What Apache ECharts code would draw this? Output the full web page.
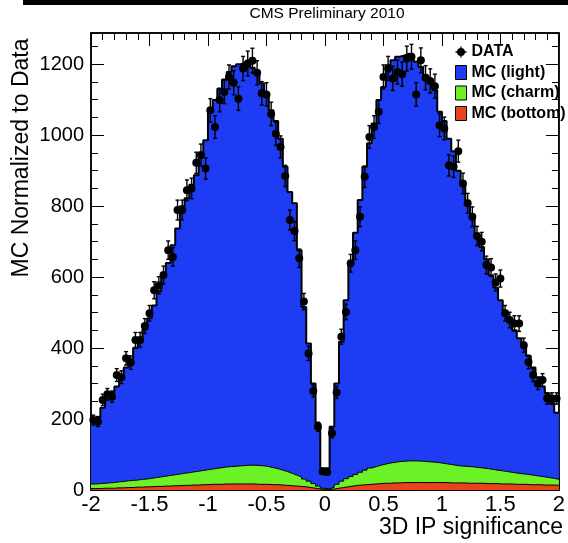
<!DOCTYPE html>
<html>
<head>
<meta charset="utf-8">
<script src="https://cdn.jsdelivr.net/npm/echarts@6/dist/echarts.min.js"></script>
<style>
  html, body { margin: 0; padding: 0; background: #fff; }
  #chart { width: 568px; height: 543px; }
</style>
</head>
<body>
<div id="chart"></div>
<script>
// ---- Binning (categories): 100 bins of width 0.04 from -2 to 2 ----
const binLow = -2;
const binWidth = 0.04;
const nBins = 100;

// ---- Tick labels ----
const xTickLabels = ['-2', '-1.5', '-1', '-0.5', '0', '0.5', '1', '1.5', '2'];
const yTickLabels = ['0', '200', '400', '600', '800', '1000', '1200'];

// ---- MC stack (cumulative heights as drawn: light+charm+bottom, charm+bottom, bottom) ----
const mcLightStack = [
  190, 205, 232, 255, 275, 292, 320, 345, 368, 400,
  425, 452, 484, 520, 560, 600, 640, 690, 737, 800,
  822, 860, 887, 944, 986, 1070, 1099, 1131, 1157, 1178,
  1194, 1200, 1204, 1202, 1190, 1174, 1146, 1110, 1070, 1040,
  990, 911, 840, 808, 676, 516, 413, 300, 188, 61,
  61, 178, 300, 418, 535, 638, 725, 817, 911, 977,
  1033, 1099, 1136, 1197, 1211, 1221, 1225, 1230, 1225, 1207,
  1192, 1169, 1146, 1127, 1066, 1040, 990, 955, 900, 860,
  815, 765, 720, 685, 650, 605, 570, 535, 505, 475,
  450, 428, 403, 378, 345, 318, 292, 272, 245, 218
];
const mcCharmStack = [
  17, 18, 19, 20, 21, 23, 24, 26, 27, 28,
  30, 31, 33, 35, 37, 39, 41, 43, 45, 47,
  49, 51, 53, 55, 57, 59, 61, 63, 65, 66,
  67, 68, 69, 70, 70, 69, 68, 66, 63, 60,
  56, 52, 47, 42, 37, 31, 25, 18, 11, 5,
  3, 8, 16, 25, 32, 38, 44, 50, 56, 62,
  66, 70, 73, 76, 78, 80, 81, 82, 82, 82,
  81, 80, 79, 78, 76, 74, 72, 70, 68, 67,
  66, 65, 63, 62, 60, 58, 56, 54, 52, 50,
  48, 46, 45, 43, 41, 39, 37, 35, 33, 30
];
const mcBottom = [
  4, 4, 5, 5, 5, 6, 6, 7, 7, 8,
  8, 9, 9, 10, 10, 11, 11, 12, 12, 13,
  13, 14, 14, 15, 15, 16, 16, 16, 17, 17,
  17, 17, 17, 17, 17, 16, 16, 16, 15, 15,
  14, 13, 12, 11, 10, 9, 7, 5, 3, 1,
  1, 3, 5, 7, 9, 11, 13, 14, 15, 16,
  17, 18, 19, 19, 20, 20, 21, 21, 21, 21,
  21, 21, 21, 21, 21, 21, 20, 20, 20, 20,
  19, 19, 19, 19, 18, 18, 18, 17, 17, 17,
  16, 16, 16, 15, 15, 15, 14, 14, 14, 13
];

// ---- DATA points and their error bars ----
const dataValues = [
  197, 193, 254, 270, 263, 324, 318, 371, 359, 423,
  423, 462, 498, 563, 577, 606, 676, 657, 789, 789,
  845, 850, 922, 944, 906, 1070, 1023, 1099, 1122, 1164,
  1148, 1103, 1188, 1202, 1210, 1176, 1118, 1115, 1060, 1004,
  967, 885, 761, 730, 653, 531, 385, 279, 178, 52,
  51, 160, 275, 432, 502, 639, 676, 770, 883, 995,
  1023, 1066, 1164, 1188, 1160, 1178, 1172, 1216, 1221, 1115,
  1211, 1162, 1153, 1138, 1028, 1019, 915, 911, 955, 864,
  808, 770, 716, 700, 634, 627, 585, 596, 498, 479,
  469, 469, 408, 361, 324, 300, 310, 258, 258, 258
];
const dataErrors = [
  14, 14, 16, 16, 16, 18, 18, 19, 19, 21,
  21, 21, 22, 24, 24, 25, 26, 26, 28, 28,
  29, 29, 30, 31, 30, 33, 32, 33, 33, 34,
  34, 33, 34, 35, 35, 34, 33, 33, 33, 32,
  31, 30, 28, 27, 26, 23, 20, 17, 13, 7,
  7, 13, 17, 21, 22, 25, 26, 28, 30, 32,
  32, 33, 34, 34, 34, 34, 34, 35, 35, 33,
  35, 34, 34, 34, 32, 32, 30, 30, 31, 29,
  28, 28, 27, 26, 25, 25, 24, 24, 22, 22,
  22, 22, 20, 19, 18, 17, 18, 16, 16, 16
];

// ---- Build series data ----
const r4 = v => Math.round(v * 10000) / 10000;
const edge = i => r4(binLow + i * binWidth);
const center = i => r4(binLow + (i + 0.5) * binWidth);
function stepData(vals) {
  const d = vals.map((v, i) => [edge(i), v]);
  d.push([edge(nBins), vals[vals.length - 1]]);
  return d;
}
const pointData = dataValues.map((v, i) => [center(i), v]);
const errData = dataValues.map((v, i) => [center(i), v, dataErrors[i]]);

const BLUE = '#1d3cf4';
const GREEN = '#6cf126';
const RED = '#e8421f';
const FONT = 'Liberation Sans, Arial, Helvetica, sans-serif';

const chart = echarts.init(document.getElementById('chart'), null, { renderer: 'canvas' });

const GRID = { left: 91, top: 33, width: 471, height: 457 };

function xAx(position, interval, tickLen, showLabel, showLine) {
  return {
    type: 'value', position, min: -2, max: 2, interval,
    axisLine: { show: showLine, onZero: false, lineStyle: { color: '#000', width: 1.5 } },
    axisTick: { show: true, inside: true, length: tickLen, lineStyle: { color: '#000', width: 1 } },
    axisLabel: showLabel ? {
      show: true, fontSize: 22, color: '#000', fontFamily: FONT, margin: 4,
      formatter: v => {
        const idx = Math.round((v + 2) / 0.5);
        return Math.abs(v - (-2 + idx * 0.5)) < 1e-6 ? xTickLabels[idx] : '';
      }
    } : { show: false },
    splitLine: { show: false }
  };
}
function yAx(position, interval, tickLen, showLabel, showLine) {
  return {
    type: 'value', position, min: 0, max: 1288, interval,
    axisLine: { show: showLine, onZero: false, lineStyle: { color: '#000', width: 1.5 } },
    axisTick: { show: true, inside: true, length: tickLen, lineStyle: { color: '#000', width: 1 } },
    axisLabel: showLabel ? {
      show: true, fontSize: 20, color: '#000', fontFamily: FONT, margin: 7,
      showMaxLabel: false,
      formatter: v => {
        const idx = Math.round(v / 200);
        return (Math.abs(v - idx * 200) < 1e-6 && idx < yTickLabels.length) ? yTickLabels[idx] : '';
      }
    } : { show: false },
    splitLine: { show: false }
  };
}

const legendIconData = 'path://M4.4,0 L5.6,0 L5.6,10 L4.4,10 Z M0,4.4 L10,4.4 L10,5.6 L0,5.6 Z M5,1.4 A3.6,3.6 0 1 1 4.99,1.4 Z';

const option = {
  backgroundColor: '#fff',
  animation: false,
  grid: { ...GRID, show: true, borderColor: '#000', borderWidth: 1.5, backgroundColor: 'transparent' },
  xAxis: [
    xAx('bottom', 0.5, 13, true, true),
    xAx('bottom', 0.1, 7, false, false),
    xAx('top', 0.5, 13, false, true),
    xAx('top', 0.1, 7, false, false)
  ],
  yAxis: [
    yAx('left', 200, 13, true, true),
    yAx('left', 50, 7, false, false),
    yAx('right', 200, 13, false, true),
    yAx('right', 50, 7, false, false)
  ],
  legend: {
    orient: 'vertical', left: 455, top: 44, padding: 0,
    itemWidth: 11, itemHeight: 14, itemGap: 4.5,
    textStyle: { fontSize: 16, fontWeight: 'bold', color: '#000', fontFamily: FONT },
    selectedMode: false,
    data: [
      { name: 'DATA', icon: legendIconData, itemStyle: { color: '#000', borderWidth: 0 } },
      { name: 'MC (light)', icon: 'rect', itemStyle: { color: BLUE, borderColor: '#000', borderWidth: 1 } },
      { name: 'MC (charm)', icon: 'rect', itemStyle: { color: GREEN, borderColor: '#000', borderWidth: 1 } },
      { name: 'MC (bottom)', icon: 'rect', itemStyle: { color: RED, borderColor: '#000', borderWidth: 1 } }
    ]
  },
  graphic: [
    { type: 'rect', left: 23, top: 0, shape: { width: 545, height: 5 }, style: { fill: '#000' }, z: 100 },
    { type: 'text', x: 327, y: 14, style: { text: 'CMS Preliminary 2010', font: '15.5px ' + FONT, fill: '#000', textAlign: 'center', textVerticalAlign: 'middle' } },
    { type: 'text', x: 22, y: 158, rotation: Math.PI / 2, style: { text: 'MC Normalized to Data', font: '23px ' + FONT, fill: '#000', textAlign: 'center', textVerticalAlign: 'middle' } },
    { type: 'text', x: 563, y: 528, style: { text: '3D IP significance', font: '23px ' + FONT, fill: '#000', textAlign: 'right', textVerticalAlign: 'middle' } }
  ],
  series: [
    {
      name: 'MC (light)', type: 'line', step: 'end', data: stepData(mcLightStack),
      symbol: 'none', xAxisIndex: 0, yAxisIndex: 0,
      lineStyle: { color: '#000', width: 2 }, itemStyle: { color: BLUE },
      areaStyle: { color: BLUE, opacity: 1, origin: 'start' }, z: 2
    },
    {
      name: 'MC (charm)', type: 'line', step: 'end', data: stepData(mcCharmStack),
      symbol: 'none', xAxisIndex: 0, yAxisIndex: 0,
      lineStyle: { color: '#000', width: 1 }, itemStyle: { color: GREEN },
      areaStyle: { color: GREEN, opacity: 1, origin: 'start' }, z: 3
    },
    {
      name: 'MC (bottom)', type: 'line', step: 'end', data: stepData(mcBottom),
      symbol: 'none', xAxisIndex: 0, yAxisIndex: 0,
      lineStyle: { color: '#000', width: 1 }, itemStyle: { color: RED },
      areaStyle: { color: RED, opacity: 1, origin: 'start' }, z: 4
    },
    {
      type: 'custom', xAxisIndex: 0, yAxisIndex: 0, z: 5,
      data: errData,
      encode: { x: 0, y: 1 },
      renderItem: (params, api) => {
        const x = api.value(0), y = api.value(1), e = api.value(2);
        const t = api.coord([x, y + e]);
        const b = api.coord([x, y - e]);
        const cap = 2;
        const st = { stroke: '#000', lineWidth: 1.4 };
        return {
          type: 'group', children: [
            { type: 'line', shape: { x1: t[0], y1: t[1], x2: b[0], y2: b[1] }, style: st },
            { type: 'line', shape: { x1: t[0] - cap, y1: t[1], x2: t[0] + cap, y2: t[1] }, style: st },
            { type: 'line', shape: { x1: b[0] - cap, y1: b[1], x2: b[0] + cap, y2: b[1] }, style: st }
          ]
        };
      }
    },
    {
      name: 'DATA', type: 'scatter', data: pointData, xAxisIndex: 0, yAxisIndex: 0,
      symbol: 'circle', symbolSize: 8, itemStyle: { color: '#000', opacity: 1 }, z: 6
    }
  ]
};
chart.setOption(option);
</script>
</body>
</html>
